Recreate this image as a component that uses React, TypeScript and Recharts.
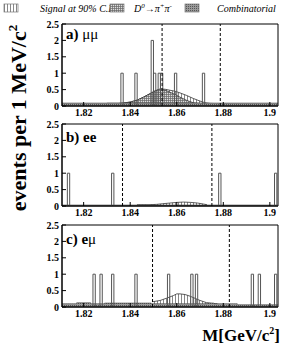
import React from 'react';
import { ComposedChart, Line, Area, XAxis, YAxis, ReferenceLine, ReferenceArea } from 'recharts';

const massRange: [number, number] = [1.8107, 1.9035];
const massTicks = [1.82, 1.84, 1.86, 1.88, 1.9];
const massMinorTicks = [1.815, 1.825, 1.83, 1.835, 1.845, 1.85, 1.855, 1.865, 1.87, 1.875, 1.885, 1.89, 1.895];
const countTicks = [0, 0.5, 1, 1.5, 2, 2.5];
const countMinorTicks = [0.1, 0.2, 0.3, 0.4, 0.6, 0.7, 0.8, 0.9, 1.1, 1.2, 1.3, 1.4, 1.6, 1.7, 1.8, 1.9, 2.1, 2.2, 2.3, 2.4];
const binWidth = 0.001;

// a) mu mu
const mumuBins = [1.836, 1.842, 1.849, 1.85, 1.852, 1.853, 1.859, 1.871];
const mumuCounts = [1, 1, 2, 1, 1, 1, 1, 1];
const mumuWindow = [1.8537, 1.8787];
const mumuCurveMass = [1.83, 1.835, 1.837, 1.84, 1.843, 1.8457, 1.8486, 1.8507, 1.8521, 1.8531, 1.855, 1.8571, 1.8593, 1.8614, 1.8643, 1.8671, 1.87, 1.8721, 1.8743, 1.8786, 1.8857];
const mumuTotal = [0.08, 0.08, 0.09, 0.12, 0.18, 0.27, 0.38, 0.46, 0.5, 0.52, 0.51, 0.48, 0.45, 0.4, 0.32, 0.23, 0.15, 0.1, 0.08, 0.07, 0.06];
const mumuPipi = [0.08, 0.08, 0.09, 0.12, 0.18, 0.27, 0.38, 0.46, 0.5, 0.52, 0.48, 0.42, 0.35, 0.27, 0.17, 0.1, 0.08, 0.07, 0.07, 0.07, 0.06];
const mumuCombMass = [1.8107, 1.9035];
const mumuComb = [0.09, 0.09];

// b) e e
const eeBins = [1.813, 1.832, 1.878, 1.902];
const eeCounts = [1, 1, 1, 1];
const eeWindow = [1.8367, 1.8751];
const eeCurveMass = [1.8429, 1.848, 1.8514, 1.854, 1.857, 1.86, 1.8629, 1.866, 1.869, 1.8714, 1.873];
const eeTotal = [0.04, 0.04, 0.05, 0.07, 0.09, 0.11, 0.12, 0.11, 0.09, 0.06, 0.04];
const eeCombMass = [1.8107, 1.9035];
const eeComb = [0.03, 0.03];

// c) e mu
const emuBins = [1.824, 1.827, 1.832, 1.842, 1.856, 1.866, 1.868, 1.892, 1.895, 1.902];
const emuCounts = [1, 1, 1, 1, 1, 1, 1, 1, 1, 1];
const emuWindow = [1.8496, 1.8826];
const emuCurveMass = [1.8496, 1.8529, 1.8557, 1.8586, 1.86, 1.8614, 1.8636, 1.8657, 1.868, 1.87, 1.8729, 1.875, 1.8775];
const emuTotal = [0.16, 0.2, 0.27, 0.35, 0.4, 0.4, 0.38, 0.33, 0.26, 0.2, 0.13, 0.11, 0.1];
const emuCombMass = [1.8107, 1.817, 1.823, 1.829, 1.849, 1.873, 1.876, 1.886, 1.9035];
const emuComb = [0.1, 0.13, 0.1, 0.12, 0.1, 0.12, 0.1, 0.07, 0.07];

const serif = '"Liberation Serif", "DejaVu Serif", serif';

type Row = { m: number; hist?: number; total?: number; pipi?: number; comb?: number };

const panels = [
  { id: 'a', top: 24, label: 'a) ', leptons: 'μμ', labelY: 39, bins: mumuBins, counts: mumuCounts, window: mumuWindow,
    curveMass: mumuCurveMass, total: mumuTotal, pipi: mumuPipi, combMass: mumuCombMass, comb: mumuComb },
  { id: 'b', top: 124, label: 'b) ee', leptons: '', labelY: 142, bins: eeBins, counts: eeCounts, window: eeWindow,
    curveMass: eeCurveMass, total: eeTotal, pipi: null, combMass: eeCombMass, comb: eeComb },
  { id: 'c', top: 225, label: 'c) e', leptons: 'μ', labelY: 244, bins: emuBins, counts: emuCounts, window: emuWindow,
    curveMass: emuCurveMass, total: emuTotal, pipi: null, combMass: emuCombMass, comb: emuComb },
];

type PanelDef = (typeof panels)[number];

const round = (v: number) => Math.round(v * 10000) / 10000;

// the histogram outline needs a point at every bin edge
const buildRows = (p: PanelDef): Row[] => {
  const rows: Row[] = [{ m: massRange[0], hist: 0 }];
  p.bins.forEach((b, i) => {
    rows.push({ m: b, hist: p.counts[i] });
    rows.push({ m: round(b + binWidth), hist: 0 });
  });
  rows.push({ m: massRange[1], hist: 0 });
  p.curveMass.forEach((m, i) => rows.push({ m, total: p.total[i], pipi: p.pipi ? p.pipi[i] : undefined }));
  p.combMass.forEach((m, i) => rows.push({ m, comb: p.comb[i] }));
  return rows.sort((a, b) => a.m - b.m);
};

const tickStyle = { fontSize: 10, fontWeight: 'bold', fill: '#000', fontFamily: serif };

const Panel = ({ p }: { p: PanelDef }) => {
  const rows = buildRows(p);
  return (
    <div style={{ position: 'absolute', left: 0, top: p.top - 10 }}>
      <ComposedChart width={282} height={114} data={rows} margin={{ top: 10, right: 4, bottom: 0, left: 0 }}>
        <XAxis dataKey="m" type="number" domain={massRange} allowDataOverflow ticks={massTicks} interval={0}
          tickFormatter={(v: number) => String(v)} tickSize={-4} tickMargin={7} height={22} stroke="#000" tick={tickStyle} />
        <XAxis xAxisId="minor" dataKey="m" type="number" domain={massRange} allowDataOverflow ticks={massMinorTicks}
          interval={0} mirror tickSize={2} tick={false} axisLine={false} height={0} stroke="#000" />
        <YAxis type="number" domain={[0, 2.5]} allowDataOverflow ticks={countTicks} interval={0} width={62}
          tickSize={-4} tickMargin={7} stroke="#000" tick={tickStyle} />
        <YAxis yAxisId="minor" type="number" domain={[0, 2.5]} allowDataOverflow ticks={countMinorTicks} interval={0}
          mirror width={0} tickSize={2} tick={false} axisLine={false} stroke="#000" />
        <Area dataKey="total" type="linear" connectNulls fill="url(#sigHatch)" fillOpacity={1} stroke="#333"
          strokeWidth={0.8} isAnimationActive={false} dot={false} activeDot={false} />
        {p.pipi && (
          <Area dataKey="pipi" type="linear" connectNulls fill="url(#pipiHatch)" fillOpacity={1} stroke="#333"
            strokeWidth={0.8} isAnimationActive={false} dot={false} activeDot={false} />
        )}
        <Area dataKey="comb" type="stepAfter" connectNulls fill="url(#combHatch)" fillOpacity={1} stroke="#444"
          strokeWidth={0.6} isAnimationActive={false} dot={false} activeDot={false} />
        <Line dataKey="hist" type="stepAfter" connectNulls stroke="#555" strokeWidth={1} dot={false}
          activeDot={false} isAnimationActive={false} />
        {p.window.map((w) => (
          <ReferenceLine key={w} x={w} stroke="#000" strokeDasharray="3 2" strokeWidth={1} />
        ))}
        <ReferenceArea x1={massRange[0]} x2={massRange[1]} y1={0} y2={2.5} fill="none" stroke="#000" strokeWidth={1} />
      </ComposedChart>
    </div>
  );
};

const App = () => {
  return (
    <div style={{ position: 'absolute', left: 0, top: 0, width: 282, height: 345, background: '#fff', fontFamily: serif }}>
      {panels.map((p) => (
        <Panel key={p.id} p={p} />
      ))}
      <svg width={282} height={345} style={{ position: 'absolute', left: 0, top: 0, pointerEvents: 'none' }}
        fontFamily={serif}>
        <defs>
          <pattern id="sigHatch" width="3" height="4" patternUnits="userSpaceOnUse">
            <rect width="3" height="4" fill="#fff" />
            <line x1="1.5" y1="0" x2="1.5" y2="4" stroke="#555" strokeWidth="0.7" />
          </pattern>
          <pattern id="pipiHatch" width="2" height="2" patternUnits="userSpaceOnUse">
            <rect width="2" height="2" fill="#ddd" />
            <path d="M0 0.5H2M0.5 0V2" stroke="#666" strokeWidth="0.7" />
          </pattern>
          <pattern id="combHatch" width="2" height="2" patternUnits="userSpaceOnUse">
            <rect width="2" height="2" fill="#999" />
            <rect width="1" height="1" fill="#555" />
          </pattern>
        </defs>

        <rect x={4} y={4} width={14} height={8} fill="url(#sigHatch)" stroke="#777" strokeWidth={0.7} />
        <text x={40} y={12} fontSize={10} fontStyle="italic">Signal at 90% C.L.</text>
        <rect x={110} y={4} width={14} height={8} fill="url(#pipiHatch)" stroke="#777" strokeWidth={0.7} />
        <text x={134} y={12} fontSize={10} fontStyle="italic">
          D<tspan dy={-4} fontSize={7}>0</tspan>
          <tspan dy={4}>→π</tspan>
          <tspan dy={-4} fontSize={7}>+</tspan>
          <tspan dy={4}>π</tspan>
          <tspan dy={-4} fontSize={7}>-</tspan>
        </text>
        <rect x={185} y={4} width={14} height={8} fill="url(#combHatch)" stroke="#777" strokeWidth={0.7} />
        <text x={217} y={12} fontSize={10} fontStyle="italic">Combinatorial</text>

        <text transform="translate(26,118) rotate(-90)" textAnchor="middle" fontSize={22} fontWeight="bold">
          events per 1 MeV/c<tspan dy={-9} fontSize={13}>2</tspan>
        </text>

        <text x={280} y={341} textAnchor="end" fontSize={17} fontWeight="bold">
          M[GeV/c<tspan dy={-7} fontSize={10}>2</tspan>
          <tspan dy={7}>]</tspan>
        </text>

        {panels.map((p) => (
          <text key={p.id} x={66} y={p.labelY} fontSize={15} fontWeight="bold">
            {p.label}
            {p.leptons && <tspan fontWeight="normal">{p.leptons}</tspan>}
          </text>
        ))}
      </svg>
    </div>
  );
};

export default App;
